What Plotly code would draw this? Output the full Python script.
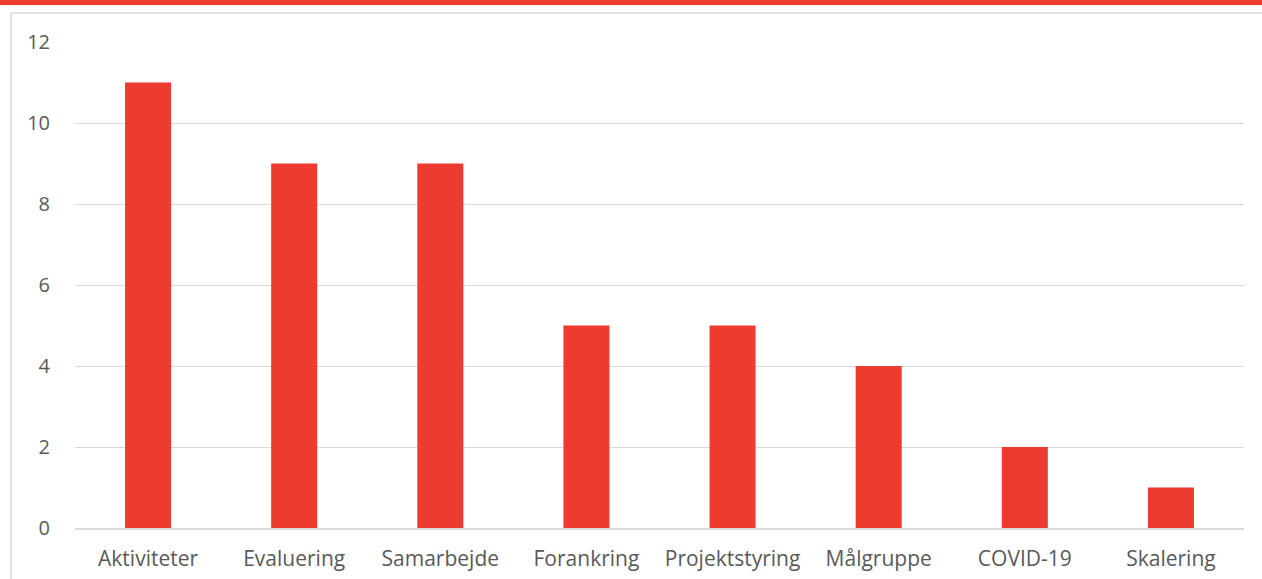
import plotly.graph_objects as go

categories = ["Aktiviteter", "Evaluering", "Samarbejde", "Forankring",
              "Projektstyring", "Målgruppe", "COVID-19", "Skalering"]
values = [11, 9, 9, 5, 5, 4, 2, 1]
y_ticks = [0, 2, 4, 6, 8, 10, 12]

W, H = 1262, 579
L, R, T, B = 75, 18, 42, 51
pw = W - L - R
ph = H - T - B

def px_x(p):
    return (p - L) / pw

def px_y(p):
    return (H - B - p) / ph

fig = go.Figure(go.Bar(
    x=categories, y=values,
    marker=dict(color="#EE3B2F", line=dict(width=0)),
    width=0.315,
))

shapes = [
    # top red band
    dict(type="rect", xref="paper", yref="paper",
         x0=px_x(-5), x1=px_x(W + 5), y0=px_y(5), y1=px_y(-5),
         fillcolor="#EE3B2F", line=dict(width=0), layer="above"),
    # chart border
    dict(type="rect", xref="paper", yref="paper",
         x0=px_x(11), x1=px_x(W + 10), y0=px_y(H + 10), y1=px_y(13),
         fillcolor="rgba(0,0,0,0)", line=dict(color="#D9D9D9", width=1.5), layer="below"),
]

fig.update_layout(
    width=W, height=H,
    margin=dict(l=L, r=R, t=T, b=B, pad=0),
    paper_bgcolor="white", plot_bgcolor="white",
    showlegend=False,
    font=dict(family="Open Sans, Liberation Sans, sans-serif", size=20, color="#595959"),
    shapes=shapes,
    xaxis=dict(showgrid=False, showline=True, linecolor="#D9D9D9", linewidth=1.5,
               automargin=False,
               ticks="", ticklabelstandoff=11, tickfont=dict(size=21, color="#595959")),
    yaxis=dict(range=[0, 12], tickvals=y_ticks, showgrid=True, gridcolor="#D9D9D9",
               automargin=False,
               gridwidth=1.3, zeroline=False, showline=False, ticks="",
               ticklabelstandoff=24, tickfont=dict(size=20, color="#595959")),
)

fig.write_html("out.html", config={"displayModeBar": False},
               post_script="document.body.style.margin='0';document.body.style.overflow='hidden';")
